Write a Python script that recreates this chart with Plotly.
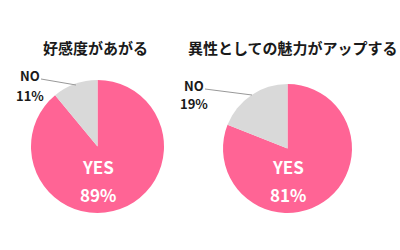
import plotly.graph_objects as go

titles = ["好感度があがる", "異性としての魅力がアップする"]
labels = ["YES", "NO"]
values_left = [89, 11]
values_right = [81, 19]
colors = ["#FF6495", "#D9D9D9"]

W, H = 400, 250
FONT = "Noto Sans CJK JP"

def px(x):
    return x / W

def py(y):
    return 1 - y / H

fig = go.Figure()

pies = [
    dict(vals=values_left, title=titles[0], dom_x=[31, 164], dom_y=[80, 213],
         title_pos=(95, 48), no_pos=(29.5, 75), pct_pos=(29.5, 95),
         yes_pos=(97.5, 166), yespct_pos=(97.5, 194), line=(41, 79, 76, 85)),
    dict(vals=values_right, title=titles[1], dom_x=[223, 352], dom_y=[84, 213],
         title_pos=(293, 48), no_pos=(193.5, 85), pct_pos=(193.5, 104),
         yes_pos=(287.5, 166), yespct_pos=(287.5, 194), line=(205, 89, 252, 95)),
]

annotations = []
shapes = []

def ann(text, pos, size, color):
    return dict(text=text, x=px(pos[0]), y=py(pos[1]), xref="paper", yref="paper",
                xanchor="center", yanchor="middle", showarrow=False,
                font=dict(family=FONT, size=size, color=color))

for p in pies:
    fig.add_trace(go.Pie(
        labels=labels, values=p["vals"], sort=False, direction="clockwise",
        rotation=0, textinfo="none", hoverinfo="label+percent",
        marker=dict(colors=colors, line=dict(width=0)),
        domain=dict(x=[px(p["dom_x"][0]), px(p["dom_x"][1])],
                    y=[py(p["dom_y"][1]), py(p["dom_y"][0])]),
        showlegend=False,
    ))
    total = sum(p["vals"])
    pct = [round(v * 100 / total) for v in p["vals"]]
    annotations.append(ann(f"<b>{p['title']}</b>", p["title_pos"], 15, "#1a1a1a"))
    annotations.append(ann(f"<b>{labels[1]}</b>", p["no_pos"], 13, "#1a1a1a"))
    annotations.append(ann(f"<b>{pct[1]}%</b>", p["pct_pos"], 13, "#1a1a1a"))
    annotations.append(ann(f"<b>{labels[0]}</b>", p["yes_pos"], 17, "white"))
    annotations.append(ann(f"<b>{pct[0]}%</b>", p["yespct_pos"], 17, "white"))
    x0, y0, x1, y1 = p["line"]
    shapes.append(dict(type="line", xref="paper", yref="paper",
                       x0=px(x0), y0=py(y0), x1=px(x1), y1=py(y1),
                       line=dict(color="#999999", width=1)))

fig.update_layout(
    width=W, height=H, margin=dict(l=0, r=0, t=0, b=0),
    paper_bgcolor="white", plot_bgcolor="white",
    annotations=annotations, shapes=shapes,
    font=dict(family=FONT),
)

fig.write_html("out.html")
